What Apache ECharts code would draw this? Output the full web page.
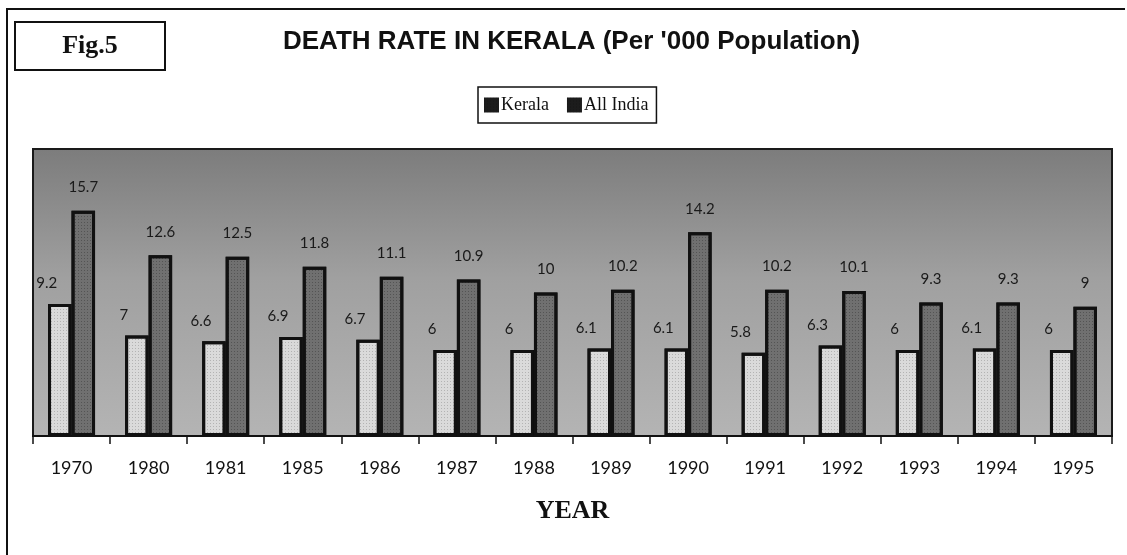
<!DOCTYPE html>
<html>
<head>
<meta charset="utf-8">
<script src="https://cdn.jsdelivr.net/npm/echarts@6/dist/echarts.min.js"></script>
<style>
  html, body { margin: 0; padding: 0; background: #fff; }
  #chart { width: 1127px; height: 555px; }
</style>
</head>
<body>
<div id="chart"></div>
<script>
const years = ['1970', '1980', '1981', '1985', '1986', '1987', '1988', '1989', '1990', '1991', '1992', '1993', '1994', '1995'];
const kerala = [9.2, 7, 6.6, 6.9, 6.7, 6, 6, 6.1, 6.1, 5.8, 6.3, 6, 6.1, 6];
const allIndia = [15.7, 12.6, 12.5, 11.8, 11.1, 10.9, 10, 10.2, 14.2, 10.2, 10.1, 9.3, 9.3, 9];

const node = document.getElementById('chart');
const chart = echarts.init(node);

// halftone-ish dots on the bars
const dots = function (color) {
  return {
    symbol: 'rect',
    symbolSize: 1,
    color: color,
    dashArrayX: [1, 2],
    dashArrayY: [1, 2],
  };
};

chart.setOption({
  animation: false,
  textStyle: {fontFamily: 'Lato'},
  title: {
    text: "DEATH RATE IN KERALA (Per '000 Population)",
    left: 283,
    top: 29,
    padding: 0,
    textStyle: {
      fontFamily: 'Liberation Sans',
      fontWeight: 'bold',
      fontSize: 26,
      color: '#111',
    },
  },
  legend: {
    left: 478,
    top: 87,
    padding: [9, 8, 9, 6],
    itemGap: 18,
    itemWidth: 15,
    itemHeight: 15,
    itemStyle: {borderWidth: 0},
    borderColor: '#111',
    borderWidth: 1.5,
    textStyle: {fontFamily: 'Liberation Serif', fontSize: 18, color: '#111', padding: [0, 0, 0, -3]},
    data: [
      {name: 'Kerala', icon: 'rect', itemStyle: {color: '#1c1c1c'}},
      {name: 'All India', icon: 'rect', itemStyle: {color: '#1c1c1c'}},
    ],
  },
  grid: {
    show: true,
    left: 33,
    right: 15,
    top: 149,
    bottom: 119,
    borderColor: '#1a1a1a',
    borderWidth: 2,
    backgroundColor: {
      type: 'linear', x: 0, y: 0, x2: 0, y2: 1,
      colorStops: [
        {offset: 0, color: '#7c7c7c'},
        {offset: 0.45, color: '#a0a0a0'},
        {offset: 1, color: '#b4b4b4'},
      ],
    },
  },
  xAxis: {
    type: 'category',
    data: years,
    name: 'YEAR',
    nameLocation: 'middle',
    nameGap: 62,
    nameTextStyle: {fontFamily: 'Liberation Serif', fontWeight: 'bold', fontSize: 26, color: '#111'},
    axisLine: {lineStyle: {color: '#111', width: 2}},
    axisTick: {show: true, length: 8, lineStyle: {color: '#111', width: 1.5}},
    axisLabel: {margin: 23, fontSize: 18, color: '#111'},
  },
  yAxis: {
    type: 'value',
    min: 0,
    max: 20,
    show: false,
    splitLine: {show: false},
  },
  series: [
    {
      name: 'Kerala',
      type: 'bar',
      data: kerala,
      barGap: '0%',
      barCategoryGap: '39%',
      itemStyle: {color: '#dadada', borderColor: '#111', borderWidth: 3, decal: dots('rgba(0,0,0,0.18)')},
      label: {show: true, position: 'top', offset: [-13, -8], fontSize: 15, color: '#1a1a1a'},
    },
    {
      name: 'All India',
      type: 'bar',
      data: allIndia,
      itemStyle: {color: '#707070', borderColor: '#111', borderWidth: 3, decal: dots('rgba(0,0,0,0.25)')},
      label: {show: true, position: 'top', offset: [0, -11], fontSize: 15, color: '#1a1a1a'},
    },
  ],
  graphic: [
    {
      type: 'polyline',
      shape: {points: [[7, 555], [7, 9], [1125, 9]]},
      style: {stroke: '#111', lineWidth: 2, fill: null},
    },
    {
      type: 'rect',
      shape: {x: 15, y: 22, width: 150, height: 48},
      style: {stroke: '#111', lineWidth: 2, fill: '#fff'},
    },
    {
      type: 'text',
      x: 90,
      y: 46,
      style: {
        text: 'Fig.5',
        font: 'bold 26px "Liberation Serif"',
        fill: '#111',
        align: 'center',
        verticalAlign: 'middle',
      },
    },
  ],
});
</script>
</body>
</html>
